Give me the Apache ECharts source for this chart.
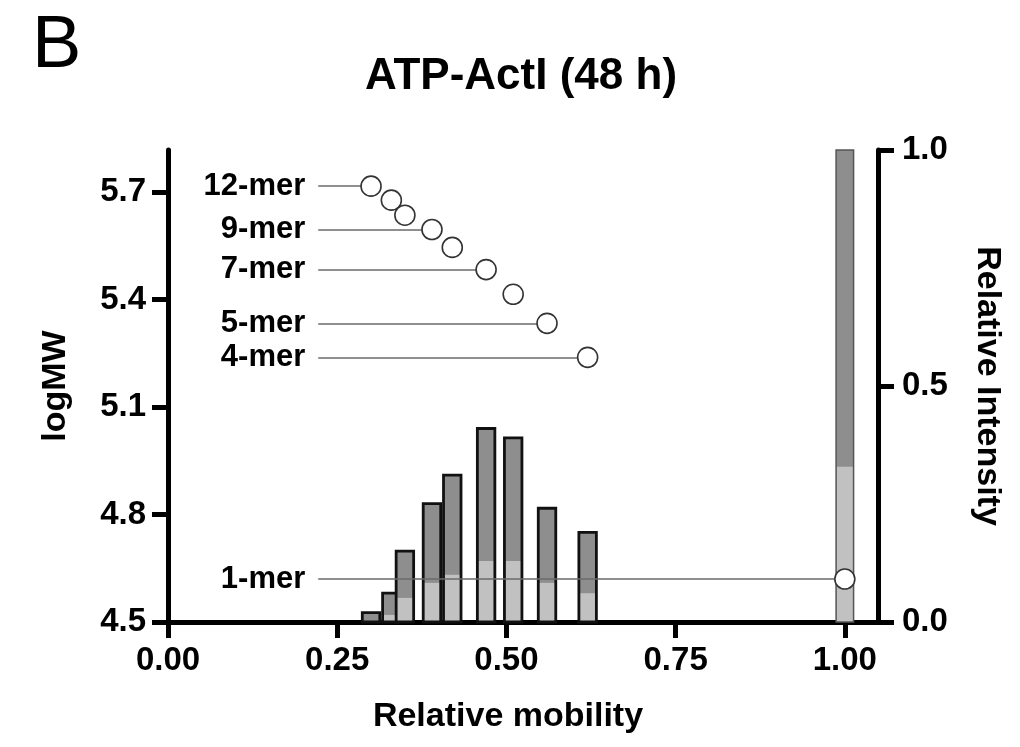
<!DOCTYPE html>
<html>
<head>
<meta charset="utf-8">
<script src="https://cdn.jsdelivr.net/npm/echarts@6/dist/echarts.min.js"></script>
<style>html,body{margin:0;padding:0;background:#fff}#c{width:1020px;height:747px}</style>
</head>
<body>
<div id="c"></div>
<script>
// ---- data ----
const mobility   = [0.30, 0.33, 0.35, 0.39, 0.42, 0.47, 0.51, 0.56, 0.62, 1.00];
const logMW      = [5.717, 5.678, 5.636, 5.596, 5.546, 5.484, 5.415, 5.334, 5.239, 4.62];
const intensityTotal = [0.020, 0.061, 0.150, 0.251, 0.311, 0.410, 0.390, 0.241, 0.190, 1.000];
const intensityLight = [0.000, 0.015, 0.051, 0.083, 0.100, 0.129, 0.129, 0.083, 0.061, 0.329];
const merLabels  = ['12-mer', '9-mer', '7-mer', '5-mer', '4-mer', '1-mer'];
const merIndex   = [0, 3, 5, 7, 8, 9];      // which point each label refers to
const labelLineStart = 0.222;
const xTicks  = [0, 0.25, 0.5, 0.75, 1.0];
const yTicks  = [4.5, 4.8, 5.1, 5.4, 5.7];
const y2Ticks = [0, 0.5, 1.0];

const FONT = '"Liberation Sans", Arial, Helvetica, sans-serif';
const chart = echarts.init(document.getElementById('c'), null, {renderer: 'canvas'});

const axisLineStyle = {color: '#000', width: 5};
const tickStyle = {color: '#000', width: 5};
const labelStyle = {color: '#000', fontWeight: 'bold', fontSize: 33, fontFamily: FONT};
const nameStyle = {fontSize: 34, fontWeight: 'bold', color: '#000', fontFamily: FONT};

const BAR_W = 17.5;
const pts = (vals) => mobility.map((m, i) => [m, vals[i]]);
const barData = mobility.map((m, i) => [m, intensityTotal[i], intensityLight[i]]);

const markLineData = merLabels.map((lab, k) => {
  const i = merIndex[k];
  return [{coord: [labelLineStart, logMW[i]], name: lab}, {coord: [mobility[i], logMW[i]]}];
});

function renderBar(params, api) {
  const x = api.value(0), tot = api.value(1), lt = api.value(2);
  const base = api.coord([x, 0]);
  const top = api.coord([x, tot]);
  const ltop = api.coord([x, lt]);
  const left = base[0] - BAR_W / 2;
  const main = x >= 0.99;
  const children = [
    {type: 'rect', shape: {x: left, y: top[1], width: BAR_W, height: base[1] - top[1]},
     style: {fill: '#8e8e8e'}},
  ];
  if (lt > 0) {
    children.push({type: 'rect', shape: {x: left, y: ltop[1], width: BAR_W, height: base[1] - ltop[1]},
     style: {fill: '#c1c1c1'}});
  }
  children.push({type: 'rect', shape: {x: left, y: top[1], width: BAR_W, height: base[1] - top[1]},
     style: {fill: 'none', stroke: main ? '#555' : '#111', lineWidth: main ? 1.5 : 2.8}});
  return {type: 'group', children: children};
}

chart.setOption({
  animation: false,
  backgroundColor: '#fff',
  title: [
    {text: 'B', left: 27, top: 5, textStyle: {fontSize: 74, fontWeight: 'normal', color: '#000', fontFamily: FONT}},
    {text: 'ATP-ActI (48 h)', left: 516, top: 50, textAlign: 'center',
     textStyle: {fontSize: 44, fontWeight: 'bold', color: '#000', fontFamily: FONT}}
  ],
  grid: {left: 168, right: 142, top: 150, bottom: 125, containLabel: false},
  xAxis: {
    type: 'value', min: 0, max: 1.049,
    name: 'Relative mobility', nameLocation: 'middle', nameGap: 78,
    nameTextStyle: Object.assign({padding: [0, 30, 0, 0]}, nameStyle),
    axisLine: {show: true, lineStyle: axisLineStyle},
    axisTick: {show: true, length: 16, lineStyle: tickStyle, customValues: xTicks},
    axisLabel: Object.assign({margin: 22, customValues: xTicks, formatter: v => v.toFixed(2)}, labelStyle),
    splitLine: {show: false}
  },
  yAxis: [
    {
      type: 'value', min: 4.5, max: 5.818, position: 'left',
      name: 'logMW', nameLocation: 'middle', nameGap: 95, nameRotate: 90,
      nameTextStyle: nameStyle,
      axisLine: {show: true, onZero: false, lineStyle: axisLineStyle},
      axisTick: {show: true, length: 16, lineStyle: tickStyle, customValues: yTicks},
      axisLabel: Object.assign({margin: 22, customValues: yTicks, formatter: v => v.toFixed(1)}, labelStyle),
      splitLine: {show: false}
    },
    {
      type: 'value', min: 0, max: 1, position: 'right',
      name: 'Relative Intensity', nameLocation: 'middle', nameGap: 92, nameRotate: -90,
      nameTextStyle: nameStyle,
      axisLine: {show: true, onZero: false, lineStyle: axisLineStyle},
      axisTick: {show: true, length: 16, lineStyle: tickStyle, customValues: y2Ticks},
      axisLabel: Object.assign({margin: 24, customValues: y2Ticks, formatter: v => v.toFixed(1)}, labelStyle),
      splitLine: {show: false}
    }
  ],
  series: [
    {
      name: 'intensity', type: 'custom', xAxisIndex: 0, yAxisIndex: 1, z: 2,
      renderItem: renderBar, encode: {x: 0, y: 1}, data: barData, silent: true
    },
    {
      name: 'labels', type: 'line', yAxisIndex: 0, data: [], z: 3,
      markLine: {
        silent: true, symbol: ['none', 'none'],
        lineStyle: {color: '#6a6a6a', width: 1.6, type: 'solid'},
        label: {show: true, position: 'start', distance: 13, formatter: '{b}',
                color: '#000', fontWeight: 'bold', fontSize: 31, fontFamily: FONT},
        emphasis: {disabled: true},
        data: markLineData
      }
    },
    {
      name: 'logMW', type: 'scatter', yAxisIndex: 0, z: 5,
      symbol: 'circle', symbolSize: 20,
      itemStyle: {color: '#fff', borderColor: '#333', borderWidth: 1.6, opacity: 1},
      data: pts(logMW)
    }
  ]
});
</script>
</body>
</html>
